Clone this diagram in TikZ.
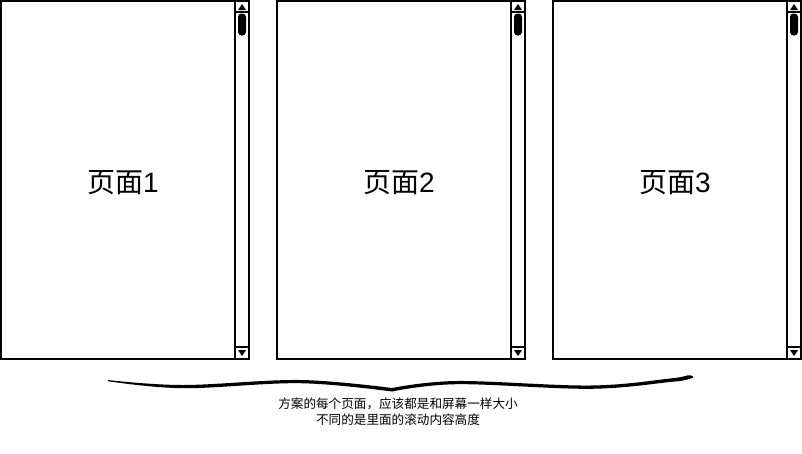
\documentclass[tikz,border=0pt]{standalone}
\usepackage{fontspec}
\setmainfont{Liberation Sans}
\newfontfamily\cjk{Noto Sans CJK SC}
\begin{document}
\begin{tikzpicture}[x=1pt,y=-1pt,
  frameline/.style={draw=black,line width=1.8pt},
  barline/.style={draw=black,line width=1.4pt},
  thumbstyle/.style={fill=black,rounded corners=3.5pt},
  arrowtri/.style={fill=black},
  pagelabel/.style={font=\fontsize{28}{32}\selectfont},
  notetext/.style={font=\cjk\fontsize{12.6}{16}\selectfont,align=center,inner sep=0pt}]
\useasboundingbox (0,0) rectangle (802,453);
\fill[white] (0,0) rectangle (802,453);
\foreach \ox/\n in {0/1,276/2,552/3}{
  \begin{scope}[xshift=\ox pt]
    \coordinate (tl\n) at (1,1);
    \coordinate (br\n) at (249,359);
    \draw[frameline] (tl\n) rectangle (br\n);
    \draw[barline] (235,1) -- (235,359);
    \draw[barline] (235,12) -- (249,12);
    \draw[barline] (235,347) -- (249,347);
    \fill[thumbstyle] (238,13.5) rectangle (246,35.5);
    \fill[arrowtri] (238,10) -- (246,10) -- (242,4) -- cycle;
    \fill[arrowtri] (238,350) -- (246,350) -- (242,356) -- cycle;
    \node[pagelabel] (lab\n) at (123,183) {{\cjk 页面}\n};
  \end{scope}
}
\fill[black] plot[smooth,tension=0.6] coordinates {(108,380) (183,385) (300,380) (392,388)}
  -- plot[smooth,tension=0.6] coordinates {(392,388) (457,381) (590,385.5) (670,378.5) (688,375.3) (693,376.6)}
  -- plot[smooth,tension=0.6] coordinates {(693,377.6) (686,379.8) (670,382) (590,388.8) (457,384.2) (392,391.5)}
  -- plot[smooth,tension=0.6] coordinates {(392,391.5) (300,383.2) (183,388.2) (108,381.2)}
  -- cycle;
\node[notetext] (note) at (398,412) {方案的每个页面，应该都是和屏幕一样大小\\不同的是里面的滚动内容高度};
\end{tikzpicture}
\end{document}
